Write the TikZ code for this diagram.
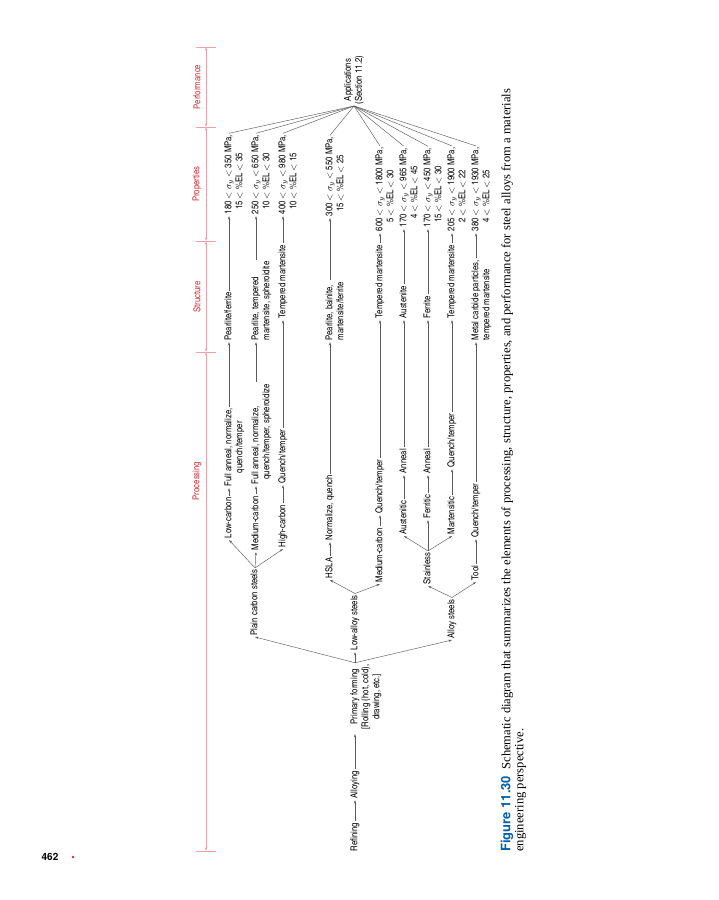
\documentclass[tikz,border=0pt]{standalone}
\usepackage{fontspec}
\usetikzlibrary{arrows.meta}
\setmainfont{Liberation Serif}
\newfontfamily\cnsf{texgyreheroscn-regular.otf}
\newfontfamily\headsf{TeX Gyre Heros}
\definecolor{hdred}{RGB}{205,45,55}
\definecolor{hdline}{RGB}{235,160,170}
\definecolor{figblue}{RGB}{0,95,170}
\definecolor{lngray}{RGB}{90,90,90}
\newcommand{\sy}{$\sigma_y$}
\newcommand{\lt}{$<$}
% stacked lines, baseline on the first one
\newcommand{\lines}[2][l]{\begin{tabular}[t]{@{}#1@{}}#2\end{tabular}}
\tikzset{
  lbl/.style    = {rotate=90, anchor=mid west, inner sep=1.5pt,
                   font=\cnsf\fontsize{9.5}{11}\selectfont},
  hdlbl/.style  = {rotate=90, inner sep=0pt, text=hdred,
                   font=\cnsf\fontsize{9.5}{11}\selectfont},
  hdtick/.style = {draw=hdline, line width=0.6pt},
  hddim/.style  = {draw=hdline, line width=0.6pt,
                   {Stealth[length=4pt,width=2.4pt]}-{Stealth[length=4pt,width=2.4pt]}},
  arr/.style    = {-{Stealth[length=3.5pt,width=2.2pt]}, draw=lngray, line width=0.45pt},
  fan/.style    = {draw=lngray, line width=0.45pt},
  captxt/.style = {rotate=90, anchor=mid west, inner sep=0pt, align=left,
                   font=\fontsize{12.6}{13}\selectfont},
}

\begin{document}
\begin{tikzpicture}[x=1pt, y=-1pt]
  \useasboundingbox (0,0) rectangle (719,900);
  % header bar
  \foreach \t in {47,127,241,352,851}
    \draw[hdtick] (196,\t) -- (216,\t);
  \foreach \a/\b in {47/127,127/241,241/352,352/851}
    \draw[hddim] (206,\a) -- (206,\b);
  \node[hdlbl] (hperf) at (197,87) {Performance};
  \node[hdlbl] (hprop) at (197,184) {Properties};
  \node[hdlbl] (hstru) at (197,297) {Structure};
  \node[hdlbl] (hproc) at (197,481) {Processing};

  % primary chain
  \node[lbl] (refin) at (355,853) {Refining};
  \node[lbl] (alloy) at (355,800) {Alloying};
  \node[lbl] (prim) at (355,731) {\lines[c]{Primary forming\\{[}Rolling (hot, cold),\\drawing, etc.]}};
  \draw[arr] (refin.mid east) -- (alloy.mid west);
  \draw[arr, shorten >=3pt] (alloy.mid east) -- (prim.mid west);

  \node[lbl] (plain)  at (255,637) {Plain carbon steels};
  \node[lbl] (lowal)  at (355,652) {Low-alloy steels};
  \node[lbl] (alloys) at (452,640) {Alloy steels};
  \foreach \n in {plain,lowal,alloys}
    \draw[arr] (prim.mid east) -- (\n.mid west);

  % steel grades
  \node[lbl] (lowc)  at (229,540) {Low-carbon};
  \node[lbl] (medc)  at (256,552) {Medium-carbon};
  \node[lbl] (highc) at (283,549) {High-carbon};
  \foreach \n in {lowc,medc,highc}
    \draw[arr] (plain.mid east) -- (\n.mid west);
  \node[lbl] (hsla)  at (330,580) {HSLA};
  \node[lbl] (medc2) at (380,584) {Medium-carbon};
  \foreach \n in {hsla,medc2}
    \draw[arr] (lowal.mid east) -- (\n.mid west);
  \node[lbl] (stain) at (428,586) {Stainless};
  \node[lbl] (tool)  at (476,582) {Tool};
  \foreach \n in {stain,tool}
    \draw[arr] (alloys.mid east) -- (\n.mid west);
  \node[lbl] (austc) at (404,536) {Austenitic};
  \node[lbl] (ferc)  at (428,520) {Ferritic};
  \node[lbl] (martc) at (452,536) {Martensitic};
  \foreach \n in {austc,ferc,martc}
    \draw[arr] (stain.mid east) -- (\n.mid west);

  % treatments
  \node[lbl] (tr1) at (229,488) {\lines[c]{Full anneal, normalize,\\quench/temper}};
  \node[lbl] (tr2) at (256,486) {\lines{Full anneal, normalize,\\\phantom{F}quench/temper, spheroidize}};
  \node[lbl] (tr3) at (283,485) {Quench/temper};
  \node[lbl] (tr4) at (330,542) {Normalize, quench};
  \node[lbl] (tr5) at (380,515) {Quench/temper};
  \node[lbl] (tr6) at (404,475) {Anneal};
  \node[lbl] (tr7) at (428,475) {Anneal};
  \node[lbl] (tr8) at (452,469) {Quench/temper};
  \node[lbl] (tr9) at (476,539) {Quench/temper};

  % structures
  \node[lbl] (st1) at (229,342) {Pearlite/ferrite};
  \node[lbl] (st2) at (256,342) {\lines{Pearlite, tempered\\martensite, spheroidite}};
  \node[lbl] (st3) at (283,320) {Tempered martensite};
  \node[lbl] (st4) at (330,342) {\lines{Pearlite, bainite,\\martensite/ferrite}};
  \node[lbl] (st5) at (380,320) {Tempered martensite};
  \node[lbl] (st6) at (404,320) {Austenite};
  \node[lbl] (st7) at (428,320) {Ferrite};
  \node[lbl] (st8) at (452,320) {Tempered martensite};
  \node[lbl] (st9) at (476,342) {\lines{Metal carbide particles,\\tempered martensite}};

  % properties
  \foreach \i/\x/\y/\lo/\hi/\elo/\ehi in {
      1/229/216/180/350/{\phantom{1}15}/35,
      2/256/216/250/650/{\phantom{2}10}/30,
      3/283/216/400/980/{\phantom{4}10}/15,
      4/330/218/300/550/{\phantom{3}15}/25,
      5/380/233/600/1800/{\phantom{60}5}/30,
      6/404/229/170/965/{\phantom{17}4}/45,
      7/428/229/170/450/{\phantom{1}15}/30,
      8/452/233/205/1900/{\phantom{20}2}/22,
      9/476/233/380/1930/{\phantom{38}4}/25}
    \node[lbl] (pr\i) at (\x,\y) {\lines{\lo{} \lt{} \sy{} \lt{} \hi{} MPa,\\\elo{} \lt{} \%EL \lt{} \ehi}};

  \foreach \g/\t in {lowc/tr1,medc/tr2,highc/tr3,hsla/tr4,medc2/tr5,austc/tr6,ferc/tr7,martc/tr8,tool/tr9}
    \draw[arr] (\g.mid east) -- (\t.mid west);
  \foreach \i in {1,...,9} {
    \draw[arr] (tr\i.mid east) -- (st\i.mid west);
    \draw[arr] (st\i.mid east) -- (pr\i.mid west);
  }

  % performance
  \node[lbl, anchor=west, align=center] (app) at (354,106) {Applications\\(Section 11.2)};
  \foreach \i in {1,...,9}
    \draw[fan] (app.west) -- (pr\i.mid east);

  % caption and page
  \node[captxt] (caption) at (521,852) {{\headsf\bfseries\fontsize{13}{13}\selectfont\color{figblue}Figure 11.30}\enspace Schematic diagram that summarizes the elements of processing, structure, properties, and performance for steel alloys from a materials\\engineering perspective.};
  \node[font=\headsf\bfseries\fontsize{10}{12}\selectfont, inner sep=0pt] (pgno) at (50,857) {462};
  \fill[hdred] (73,857) circle (1.3);
\end{tikzpicture}
\end{document}
